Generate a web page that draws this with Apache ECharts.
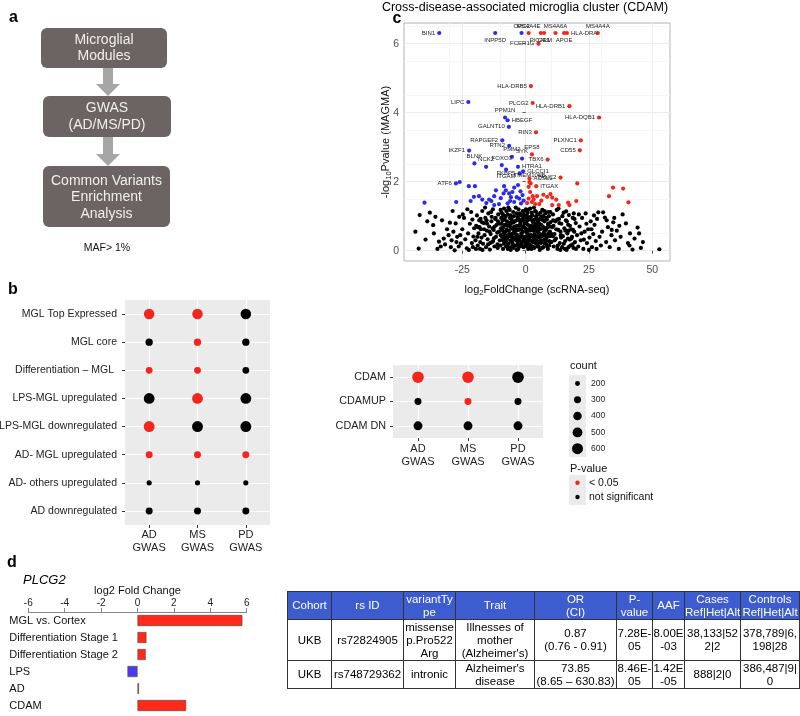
<!DOCTYPE html>
<html><head><meta charset="utf-8">
<script src="https://cdn.jsdelivr.net/npm/echarts@6/dist/echarts.min.js"></script>
<style>
html,body{margin:0;padding:0;background:#fff;}
#chart{position:absolute;left:0;top:0;width:800px;height:716px;}
#tbl{position:absolute;left:287px;top:591px;border-collapse:collapse;font-family:'Liberation Sans',Arial,sans-serif;font-size:11.5px;line-height:13px;table-layout:fixed;width:512px;}
#tbl td,#tbl th{border:1px solid #333;padding:0;text-align:center;vertical-align:middle;white-space:nowrap;overflow:visible;}
#tbl th{background:#3c5ccf;color:#fff;font-weight:normal;font-size:11.5px;height:27px;}
#tbl tr.r1 td{height:40px;}
#tbl tr.r2 td{height:27px;}
</style></head>
<body>
<div id="chart"></div>
<table id="tbl"></table>
<script>
// ---------- Panel b: module enrichment dot plot ----------
const gwasCats = ['AD\nGWAS', 'MS\nGWAS', 'PD\nGWAS'];
const moduleNames = ['MGL Top Expressed', 'MGL core', 'Differentiation – MGL ', 'LPS-MGL upregulated', 'LPS-MGL downregulated', 'AD- MGL upregulated', 'AD- others upregulated', 'AD downregulated'];
const moduleCounts = [[560,560,560],[320,320,320],[290,290,290],[580,580,580],[590,590,590],[300,300,300],[210,210,210],[300,300,300]];
const moduleSignificant = [[1,1,0],[0,1,0],[1,1,0],[0,1,0],[1,0,0],[1,1,1],[0,0,0],[0,0,0]];
const cdamNames = ['CDAM', 'CDAMUP', 'CDAM DN'];
const cdamCounts = [[650,650,650],[300,300,300],[430,430,430]];
const cdamSignificant = [[1,1,0],[0,1,0],[0,0,0]];
const legendCounts = [200, 300, 400, 500, 600];

// ---------- Panel c: volcano ----------
const volcanoLabeledGenes = ['BIN1','INPP5D','OPC2','MS4A4E','PICALM','CR1','MS4A6A','APOE','HLA-DRA','MS4A4A','FCER1G','HLA-DRB5','LIPC','PLCG2','HLA-DRB1','PPM1N','HBEGF','HLA-DQB1','GALNT10','RIN3','RAPGEF2','PLXNC1','RTN2','IKZF1','CD55','EPS8','PMM2','SYK','TBX6','BLNK','FOXO3','NCK2','HTRA1','ITGAM','GLCCI1','FKBP5','ACSL1','TANC2','ATF6','TMEM106B','ITGAX'];
const volcanoLabeledFC = [-34.1,-12.0,-1.6,1.2,6.0,7.3,11.8,15.2,16.3,28.5,5.1,2.1,-22.6,2.8,17.3,-8.1,-7.1,29.0,-6.6,4.1,-9.2,21.8,-6.5,-22.3,21.4,2.5,-5.4,-1.4,8.7,-20.2,-9.4,-15.6,-3.0,-7.7,-1.0,-2.4,1.5,13.8,-27.5,1.5,4.2];
const volcanoLabeledP = [6.31,6.31,6.31,6.31,6.31,6.31,6.31,6.31,6.31,6.31,6.0,4.77,4.31,4.28,4.19,3.86,3.78,3.86,3.59,3.43,3.20,3.20,3.04,2.90,2.91,2.79,2.72,2.67,2.64,2.53,2.48,2.43,2.43,2.35,2.30,2.24,2.09,2.12,1.95,1.99,1.87];
const volcanoOtherFC = [
-26.0,-39.9,-27.4,-22.4,-20.0,-20.4,-21.7,-18.4,-17.1,-14.4,-13.5,-12.4,-11.7,-8.7,-7.8,-6.5,-5.2,-7.1,-6.1,-4.5,-2.5,-1.8,-1.2,-12.4,-8.5,-4.5,-3.0,-9.8,-3.5,-0.8,-10.5,-5.8,-2.0,-15.5,
1.2,1.2,2.5,2.8,4.5,3.8,5.4,8.5,9.8,10.5,10.5,12.1,13.1,16.8,17.3,20.0,20.4,32.9,34.5,38.5,40.6,1.8,3.2,0.6,6.2,2.0,7.0,
-43.5,-42.2,-41.8,-37.8,-35.6,-36.5,-36.2,-34.2,-32.3,-33.5,-39.5,-31.0,-30.4,-38.8,-34.8,-31.8,-33.0,
-29.9,-27.6,-28.0,-25.6,-29.2,-28.5,-27.0,-26.4,-25.0,-24.3,-23.8,-23.2,-22.7,-22.0,-21.5,-21.2,-20.6,-20.3,-24.8,-26.2,-28.8,-22.4,-29.5,-21.0,-27.3,-25.8,-23.0,-20.8,
-19.8,-19.5,-19.2,-18.9,-18.6,-18.3,-18.0,-17.7,-17.4,-17.1,-16.8,-16.5,-16.2,-15.9,-15.6,-15.3,-15.0,-14.7,-14.4,-14.1,-13.8,-13.5,-13.2,-12.9,-12.6,-12.3,-12.0,-11.7,-11.4,-11.1,-10.8,-10.5,-10.2,-19.0,-17.0,-15.2,-13.0,-11.0,-16.0,-14.0,-12.5,-18.2,-10.9,-13.6,-17.8,
-9.9,-9.7,-9.5,-9.3,-9.1,-8.9,-8.7,-8.5,-8.3,-8.1,-7.9,-7.7,-7.5,-7.3,-7.1,-6.9,-6.7,-6.5,-6.3,-6.1,-5.9,-5.7,-5.5,-5.3,-5.1,-4.9,-4.7,-4.5,-4.3,-4.1,-3.9,-3.7,-3.5,-3.3,-3.1,-2.9,-2.7,-2.5,-2.3,-2.1,-1.9,-1.7,-1.5,-1.3,-1.1,-0.9,-0.7,-0.5,-0.3,-9.8,-9.0,-8.2,-7.4,-6.6,-5.8,-5.0,-4.2,-3.4,-2.6,-1.8,-1.0,-0.4,-9.4,-8.6,-7.8,-7.0,-6.2,-5.4,-4.6,-3.8,-3.0,-2.2,-1.4,-0.6,-0.2,-8.8,-6.8,-4.8,-2.8,-0.8,-9.6,-7.6,-5.6,-3.6,-1.6,-0.1,
0.2,0.4,0.6,0.8,1.0,1.2,1.4,1.6,1.8,2.0,2.2,2.4,2.6,2.8,3.0,3.2,3.4,3.6,3.8,4.0,4.2,4.4,4.6,4.8,5.0,5.2,5.4,5.6,5.8,6.0,6.2,6.4,6.6,6.8,7.0,7.2,7.4,7.6,7.8,8.0,8.2,8.4,8.6,8.8,9.0,9.2,9.4,9.6,9.8,0.3,0.9,1.5,2.1,2.7,3.3,3.9,4.5,5.1,5.7,6.3,6.9,7.5,8.1,8.7,9.3,0.5,1.1,1.7,2.3,2.9,3.5,4.1,4.7,5.3,5.9,6.5,7.1,7.7,8.3,8.9,9.5,0.1,1.3,2.5,3.7,4.9,
10.2,10.5,10.8,11.1,11.4,11.7,12.0,12.3,12.6,12.9,13.2,13.5,13.8,14.1,14.4,14.7,15.0,15.3,15.6,15.9,16.2,16.5,16.8,17.1,17.4,17.7,18.0,18.3,18.6,18.9,19.2,19.5,19.8,11.0,12.5,14.0,15.5,17.0,18.5,13.0,16.0,19.0,10.7,13.7,16.7,
20.3,20.8,21.3,21.8,22.3,22.8,23.3,23.7,24.2,24.7,25.2,25.7,26.2,26.7,27.2,27.7,28.2,28.7,29.2,29.7,21.0,22.0,24.0,26.0,28.0,25.0,27.0,23.0,
30.6,31.3,30.2,31.8,32.5,33.2,33.9,34.6,35.3,36.0,36.8,37.5,38.3,39.6,40.4,41.2,42.2,43.0,44.2,44.8,45.5,46.3,52.8,35.0,32.0,37.0,41.0,34.0,
-11.8,-11.2,-10.6,-10.1,-9.85,-9.25,-8.75,-8.35,-7.95,-7.55,-7.15,-6.75,-6.35,-5.95,-5.55,-5.15,-4.75,-4.35,-3.95,-3.55,-3.15,-2.75,-2.35,-1.95,-1.55,-1.15,-0.75,-0.35,0.15,0.55,0.95,1.35,1.75,2.15,2.55,2.95,3.35,3.75,4.15,4.55,4.95,5.35,5.75,6.15,6.55,6.95,7.35,7.75,8.15,8.55,8.95,9.35,9.75,10.3,10.9,11.5,12.1,12.7,13.3,13.9,14.5,15.1,15.7,16.3,16.9,17.5,18.1,18.7,19.3,19.9,-12.2,-12.8,-13.4,-14.2,-14.8,-15.4,-16.4,-17.2,-17.9,-18.8,-19.6,-0.05,-0.45,-0.95,-1.45,-1.85,-2.45,-2.95,-3.45,-3.85,-4.45,-4.95,-5.45,-6.05,-6.45,-7.25,-8.05,-8.95,0.35,0.75,1.25,1.95,2.45,3.05,3.55,4.35,5.05,5.65,6.45,7.25,8.05,8.85,9.65];
const volcanoOtherP = [
1.99,1.39,1.41,1.87,1.87,1.56,1.44,1.58,1.48,1.48,1.44,1.58,1.75,1.66,1.75,1.66,1.70,1.37,1.44,1.41,1.51,1.37,1.61,1.32,1.87,1.83,1.90,1.52,1.55,1.45,1.35,1.55,1.72,1.38,
1.85,1.51,1.41,1.58,1.58,1.35,1.35,1.56,1.64,1.54,1.32,1.48,1.32,1.39,1.32,1.44,1.95,1.58,1.83,1.80,1.40,1.70,1.48,1.38,1.45,1.95,1.62,
0.55,0.06,1.03,1.10,0.98,0.74,0.50,0.26,0.35,0.12,0.32,0.62,0.45,0.85,0.05,0.18,0.88,
0.81,0.79,0.01,0.21,0.30,0.55,0.40,0.12,0.62,0.95,0.33,0.07,0.50,0.78,1.12,0.22,0.41,0.65,1.05,0.98,1.15,0.02,0.10,0.90,0.25,0.45,1.20,0.10,
0.30,0.72,1.02,0.15,0.50,0.88,0.05,0.62,0.38,1.15,0.20,0.80,0.45,0.95,0.10,0.58,0.33,1.08,0.70,0.03,0.48,0.85,0.25,1.20,0.60,0.12,0.92,0.40,0.75,0.18,1.05,0.55,0.30,0.40,0.02,0.78,0.65,0.08,1.25,0.22,0.36,0.68,0.85,1.12,0.92,
0.15,0.65,1.10,0.40,0.88,0.05,0.52,1.22,0.28,0.75,0.98,0.12,0.60,0.35,1.05,0.82,0.20,0.48,1.18,0.70,0.02,0.42,0.92,0.25,0.63,1.12,0.08,0.55,0.85,0.32,1.25,0.15,0.72,0.45,0.98,0.05,0.60,0.30,1.08,0.78,0.18,0.50,0.90,0.38,1.15,0.10,0.68,0.25,0.95,0.45,0.30,1.00,0.85,0.58,0.78,0.18,0.62,0.28,0.88,1.02,0.55,0.12,0.78,0.20,0.40,0.05,0.95,0.48,1.00,0.58,0.20,0.40,0.70,0.85,0.40,0.68,1.25,0.35,1.20,1.05,0.95,1.15,0.10,0.88,0.25,0.65,
0.20,0.85,0.50,1.10,0.05,0.62,0.35,0.95,1.22,0.15,0.72,0.42,1.02,0.25,0.58,0.88,0.08,0.48,1.15,0.68,0.30,0.92,0.12,0.55,1.05,0.38,0.78,0.02,0.62,0.22,0.98,0.45,1.18,0.70,0.10,0.52,0.85,0.32,1.08,0.60,0.18,0.90,0.40,0.05,0.75,1.00,0.28,0.55,0.82,0.40,0.75,0.18,0.98,0.60,1.25,0.22,0.80,0.12,0.92,0.30,0.48,1.15,0.28,0.68,0.15,1.02,0.28,0.58,0.05,0.82,0.35,1.00,0.42,0.65,1.10,0.08,0.88,0.45,0.65,1.12,0.42,1.20,0.90,0.28,0.75,0.25,
0.25,0.68,1.05,0.12,0.48,0.85,0.35,1.18,0.05,0.60,0.92,0.22,0.55,0.78,0.10,0.42,1.10,0.65,0.28,0.88,0.02,0.50,0.75,1.03,0.32,0.15,0.62,0.40,0.95,0.08,0.55,0.25,0.80,0.72,0.90,0.38,0.05,0.58,0.18,1.22,1.14,1.08,0.42,0.02,0.35,
0.45,0.12,0.70,0.30,0.95,0.05,0.55,1.08,0.22,0.62,0.38,0.85,0.10,0.48,0.75,0.28,0.92,1.11,0.40,0.15,1.05,0.50,0.78,0.62,0.05,0.02,1.02,0.32,
1.11,0.96,0.55,0.25,0.68,0.10,0.45,0.82,0.30,0.58,0.05,0.40,1.05,0.79,0.22,0.50,0.03,0.35,0.67,0.50,0.08,0.25,0.04,0.95,0.88,0.72,0.15,0.60,
0.95,0.52,0.15,0.78,1.18,0.60,0.35,0.90,0.55,0.25,0.72,0.42,0.08,1.02,0.65,0.38,0.82,0.15,0.48,1.08,0.62,0.38,0.12,0.85,0.45,0.70,0.32,1.15,0.55,0.30,1.18,0.62,0.08,0.45,0.88,0.12,0.68,0.40,1.12,0.20,0.85,0.50,0.28,0.75,0.42,1.00,0.22,0.65,0.95,0.12,0.50,0.70,1.12,0.48,0.88,0.30,0.62,0.15,0.80,0.45,1.00,0.20,0.58,0.85,0.10,0.72,0.35,0.60,0.92,0.05,0.70,0.28,0.98,0.55,0.18,0.88,0.62,0.82,0.25,0.68,0.05,0.22,0.78,0.98,0.15,0.62,0.72,0.92,0.02,0.38,0.70,0.50,0.85,0.30,0.80,0.15,0.45,1.05,0.95,0.12,0.45,0.70,1.10,0.32,0.90,0.58,0.72,0.40,0.90,0.62,0.35,0.78,0.25];
const volcanoXTicks = [-25, 0, 25, 50];
const volcanoYTicks = [0, 2, 4, 6];

// ---------- Panel d: PLCG2 fold change ----------
const barCats = ['MGL vs. Cortex', 'Differentiation Stage 1', 'Differentiation Stage 2', 'LPS', 'AD', 'CDAM'];
const barFC = [5.76, 0.49, 0.45, -0.55, 0.08, 2.67];

// ---------- Table ----------
const tableHeader = ['Cohort','rs ID','variantTy\npe','Trait','OR\n(CI)','P-\nvalue','AAF','Cases\nRef|Het|Alt','Controls\nRef|Het|Alt'];
const tableRows = [
  ['UKB','rs72824905','missense\np.Pro522\nArg','Illnesses of\nmother\n(Alzheimer\'s)','0.87\n(0.76 - 0.91)','7.28E-\n05','8.00E\n-03','38,133|52\n2|2','378,789|6,\n198|28'],
  ['UKB','rs748729362','intronic','Alzheimer\'s\ndisease','73.85\n(8.65 – 630.83)','8.46E-\n05','1.42E\n-05','888|2|0','386,487|9|\n0']
];
const tableColWidths = [44,72,52,79,82,36,32,56,59];

(function(){
  const t = document.getElementById('tbl');
  const esc = s => s.replace(/&/g,'&amp;').replace(/</g,'&lt;').replace(/\n/g,'<br>');
  let h = '<colgroup>' + tableColWidths.map(w => '<col style="width:' + w + 'px">').join('') + '</colgroup>';
  h += '<tr>' + tableHeader.map(c => '<th>' + esc(c) + '</th>').join('') + '</tr>';
  tableRows.forEach((r, i) => { h += '<tr class="r' + (i+1) + '">' + r.map(c => '<td>' + esc(c) + '</td>').join('') + '</tr>'; });
  t.innerHTML = h;
})();

const FONT = "'Liberation Sans', Arial, Helvetica, sans-serif";
const RED = '#f2261a', BLUE = '#2b2bf0', BLACK = '#000';
function dotSize(c) { return 1.1 * Math.sqrt(Math.max(4, 0.199 * c - 19.6)); }

function dotData(counts, sig) {
  const out = [];
  counts.forEach((row, i) => row.forEach((c, j) => {
    out.push({ value: [j, i, c], itemStyle: { color: sig[i][j] ? RED : BLACK, opacity: 1 } });
  }));
  return out;
}

const labelPlacement = {
  'BIN1':['left',0,0],'INPP5D':['bottom',-5,-1],'OPC2':['top',-5,1],'MS4A4E':['top',7,1],'PICALM':['bottom',-3,-1],
  'CR1':['bottom',3,-1],'MS4A6A':['top',5,1],'APOE':['bottom',-2,-1],'HLA-DRA':['right',0,0],'MS4A4A':['top',2,0],
  'FCER1G':['left',0,0],'HLA-DRB5':['left',0,0],'LIPC':['left',0,0],'PLCG2':['left',0,0],'HLA-DRB1':['left',0,0],
  'PPM1N':['top',0,1],'HBEGF':['right',0,0],'HLA-DQB1':['left',0,0],'GALNT10':['left',0,0],'RIN3':['left',0,0],
  'RAPGEF2':['left',0,0],'PLXNC1':['left',0,0],'RTN2':['left',0,0],'IKZF1':['left',0,0],'CD55':['left',0,0],
  'EPS8':['top',4,1],'PMM2':['top',-3,1],'SYK':['top',1,1],'TBX6':['left',0,-3],'BLNK':['top',-2,1],
  'FOXO3':['top',0,1],'NCK2':['top',-3,1],'HTRA1':['right',0,-3],'ITGAM':['bottom',-10,-2],'GLCCI1':['right',0,1],
  'FKBP5':['left',0,0],'ACSL1':['right',0,-3],'TANC2':['left',0,1],'ATF6':['left',0,0],'TMEM106B':['top',-4,1],'ITGAX':['right',0,0]
};

function sigColor(x, y) { return y > 1.3 ? (x < 0 ? BLUE : RED) : BLACK; }
const bgPts = [], sigPts = [];
volcanoOtherFC.forEach((x, i) => {
  const y = volcanoOtherP[i];
  (y > 1.3 ? sigPts : bgPts).push({ value: [x, y], itemStyle: { color: sigColor(x, y), opacity: 1 } });
});
const labeledPts = volcanoLabeledGenes.map((g, i) => {
  const x = volcanoLabeledFC[i], y = volcanoLabeledP[i];
  const p = labelPlacement[g] || ['left',0,0];
  return { name: g, value: [x, y], itemStyle: { color: sigColor(x, y), opacity: 1 },
    label: { show: true, position: p[0], offset: [p[1], p[2]], distance: 2, formatter: '{b}', fontSize: 6, color: '#222', fontFamily: FONT } };
});

const catAxisCommon = {
  type: 'category',
  axisLine: { show: false },
  axisTick: { show: true, alignWithLabel: true, length: 3, lineStyle: { color: '#333' } },
  splitLine: { show: true, alignWithLabel: true, lineStyle: { color: '#fff', width: 1.2 } },
  axisLabel: { color: '#222', fontFamily: FONT, fontSize: 10.5, interval: 0 }
};

const LEG = 10.5;
const legendGraphics = [];
legendGraphics.push({ type: 'text', x: 570, y: 366, style: { text: 'count', fontSize: 11, fontFamily: FONT, fill: '#111', verticalAlign: 'middle' } });
legendGraphics.push({ type: 'rect', shape: { x: 569, y: 375, width: 17, height: 82 }, style: { fill: '#ebebeb' } });
legendCounts.forEach((c, i) => {
  const cy = 383.5 + i * 16.3;
  legendGraphics.push({ type: 'circle', shape: { cx: 577.5, cy: cy, r: dotSize(c) / 2 }, style: { fill: '#000' } });
  legendGraphics.push({ type: 'text', x: 591, y: cy, style: { text: String(c), fontSize: 8.5, fontFamily: FONT, fill: '#222', verticalAlign: 'middle' } });
});
legendGraphics.push({ type: 'text', x: 570, y: 469, style: { text: 'P-value', fontSize: 11, fontFamily: FONT, fill: '#111', verticalAlign: 'middle' } });
legendGraphics.push({ type: 'rect', shape: { x: 569, y: 475, width: 17, height: 30 }, style: { fill: '#ebebeb' } });
legendGraphics.push({ type: 'circle', shape: { cx: 577.5, cy: 482.7, r: 2.2 }, style: { fill: RED } });
legendGraphics.push({ type: 'circle', shape: { cx: 577.5, cy: 497, r: 2.2 }, style: { fill: '#000' } });
legendGraphics.push({ type: 'text', x: 589, y: 482.7, style: { text: '< 0.05', fontSize: LEG, fontFamily: FONT, fill: '#111', verticalAlign: 'middle' } });
legendGraphics.push({ type: 'text', x: 589, y: 497, style: { text: 'not significant', fontSize: LEG, fontFamily: FONT, fill: '#111', verticalAlign: 'middle' } });

const BOX = '#6c6462', ARROW = '#a6a6a6';
function boxText(x, y, lines) {
  return lines.map((l, k) => ({ type: 'text', x: x, y: y + k * 16.5, style: { text: l, fontSize: 14, fontFamily: FONT, fill: '#efefef', align: 'center', verticalAlign: 'middle' } }));
}
function arrow(y0, y1) {
  return [
    { type: 'rect', shape: { x: 103, y: y0, width: 10, height: y1 - y0 - 11 }, style: { fill: ARROW } },
    { type: 'polygon', shape: { points: [[96, y1 - 12], [120, y1 - 12], [108, y1]] }, style: { fill: ARROW } }
  ];
}
const flowGraphics = [].concat(
  [{ type: 'rect', shape: { x: 41, y: 28, width: 126, height: 40, r: 6 }, style: { fill: BOX } }],
  boxText(104, 40, ['Microglial', 'Modules']),
  arrow(68, 96),
  [{ type: 'rect', shape: { x: 43, y: 96, width: 128, height: 41, r: 6 }, style: { fill: BOX } }],
  boxText(107, 108.5, ['GWAS', '(AD/MS/PD)']),
  arrow(137, 166),
  [{ type: 'rect', shape: { x: 43, y: 166, width: 127, height: 61, r: 6 }, style: { fill: BOX } }],
  boxText(106.5, 181, ['Common Variants', 'Enrichment', 'Analysis']),
  [{ type: 'text', x: 107, y: 248, style: { text: 'MAF> 1%', fontSize: 10.5, fontFamily: FONT, fill: '#111', align: 'center', verticalAlign: 'middle' } }]
);

function panelLabel(t, x, y) {
  return { type: 'text', x: x, y: y, style: { text: t, fontSize: 16, fontWeight: 'bold', fontFamily: FONT, fill: '#000', align: 'center', verticalAlign: 'middle' } };
}

const chart = echarts.init(document.getElementById('chart'));
chart.setOption({
  backgroundColor: '#fff',
  animation: false,
  textStyle: { fontFamily: FONT },
  grid: [
    { left: 125, top: 300, width: 145, height: 225, show: true, backgroundColor: '#ebebeb', borderWidth: 0, outerBoundsMode: 'none', containLabel: false },
    { left: 393, top: 365, width: 150, height: 73, show: true, backgroundColor: '#ebebeb', borderWidth: 0, outerBoundsMode: 'none', containLabel: false },
    { left: 404, top: 23, width: 266, height: 238, show: true, backgroundColor: '#fff', borderColor: '#b3b3b3', borderWidth: 1, outerBoundsMode: 'none', containLabel: false },
    { left: 28.3, top: 612, width: 218.4, height: 102, show: false, outerBoundsMode: 'none', containLabel: false }
  ],
  xAxis: [
    Object.assign({}, catAxisCommon, { gridIndex: 0, data: gwasCats, axisLabel: Object.assign({}, catAxisCommon.axisLabel, { fontSize: 11, lineHeight: 12.5, margin: 4 }) }),
    Object.assign({}, catAxisCommon, { gridIndex: 1, data: gwasCats, axisLabel: Object.assign({}, catAxisCommon.axisLabel, { fontSize: 11, lineHeight: 12.5, margin: 5 }) }),
    { type: 'value', gridIndex: 2, min: -48, max: 57,
      axisLine: { show: false },
      axisTick: { show: true, length: 3, customValues: volcanoXTicks, lineStyle: { color: '#555' } },
      axisLabel: { customValues: volcanoXTicks, color: '#4d4d4d', fontSize: 10.5, margin: 4, fontFamily: FONT },
      splitLine: { show: true, lineStyle: { color: '#ebebeb', width: 1 } },
      minorTick: { show: false, splitNumber: 2 },
      minorSplitLine: { show: true, lineStyle: { color: '#f4f4f4', width: 0.8 } },
      name: '{n|log}{s|2}{n|FoldChange (scRNA-seq)}', nameLocation: 'middle', nameGap: 22, nameMoveOverlap: false,
      nameTextStyle: { rich: { n: { fontSize: 11, fontFamily: FONT, color: '#111' }, s: { fontSize: 7.5, fontFamily: FONT, color: '#111', padding: [6, 0, 0, 0], verticalAlign: 'bottom' } } } },
    { type: 'value', gridIndex: 3, min: -6, max: 6, interval: 2, position: 'top',
      axisLine: { show: true, onZero: false, lineStyle: { color: '#888' } },
      axisTick: { show: true, length: 4, lineStyle: { color: '#888' } },
      axisLabel: { color: '#222', fontSize: 10, margin: 4, fontFamily: FONT },
      splitLine: { show: false },
      name: 'log2 Fold Change', nameLocation: 'middle', nameGap: 16, nameMoveOverlap: false,
      nameTextStyle: { fontSize: 11, color: '#111', fontFamily: FONT } }
  ],
  yAxis: [
    Object.assign({}, catAxisCommon, { gridIndex: 0, inverse: true, data: moduleNames, axisLabel: Object.assign({}, catAxisCommon.axisLabel, { fontSize: 10.5, margin: 8 }) }),
    Object.assign({}, catAxisCommon, { gridIndex: 1, inverse: true, data: cdamNames, axisLabel: Object.assign({}, catAxisCommon.axisLabel, { fontSize: 10.8, margin: 7 }) }),
    { type: 'value', gridIndex: 2, min: -0.3, max: 6.6,
      axisLine: { show: false },
      axisTick: { show: true, length: 3, customValues: volcanoYTicks, lineStyle: { color: '#555' } },
      axisLabel: { customValues: volcanoYTicks, color: '#4d4d4d', fontSize: 10.5, margin: 5, fontFamily: FONT },
      splitLine: { show: true, lineStyle: { color: '#ebebeb', width: 1 } },
      minorTick: { show: false, splitNumber: 2 },
      minorSplitLine: { show: true, lineStyle: { color: '#f4f4f4', width: 0.8 } },
      name: '{n|-log}{s|10}{n|Pvalue (MAGMA)}', nameLocation: 'middle', nameGap: 11, nameRotate: 90, nameMoveOverlap: false,
      nameTextStyle: { rich: { n: { fontSize: 11, fontFamily: FONT, color: '#111' }, s: { fontSize: 7.5, fontFamily: FONT, color: '#111', padding: [6, 0, 0, 0], verticalAlign: 'bottom' } } } },
    { type: 'category', gridIndex: 3, inverse: true, data: barCats,
      axisLine: { show: false, onZero: false }, axisTick: { show: false },
      axisLabel: { align: 'left', margin: 19, fontSize: 11, color: '#111', fontFamily: FONT, interval: 0 } }
  ],
  series: [
    { type: 'scatter', xAxisIndex: 0, yAxisIndex: 0, data: dotData(moduleCounts, moduleSignificant), symbolSize: v => dotSize(v[2]) },
    { type: 'scatter', xAxisIndex: 1, yAxisIndex: 1, data: dotData(cdamCounts, cdamSignificant), symbolSize: v => dotSize(v[2]) },
    { type: 'scatter', xAxisIndex: 2, yAxisIndex: 2, data: bgPts, symbolSize: 4.2 },
    { type: 'scatter', xAxisIndex: 2, yAxisIndex: 2, data: sigPts, symbolSize: 4.2 },
    { type: 'scatter', xAxisIndex: 2, yAxisIndex: 2, data: labeledPts, symbolSize: 4.2, labelLayout: { hideOverlap: false } },
    { type: 'bar', xAxisIndex: 3, yAxisIndex: 3, barWidth: 11,
      data: barFC.map(v => ({ value: v, itemStyle: { color: v < 0 ? '#4a3af2' : '#ff2a1a', borderColor: '#444', borderWidth: 0.6 } })) }
  ],
  graphic: [].concat(flowGraphics, legendGraphics, [
    panelLabel('a', 13.5, 18), panelLabel('b', 13, 290), panelLabel('c', 397, 19), panelLabel('d', 12, 563),
    { type: 'text', x: 525, y: 8, style: { text: 'Cross-disease-associated microglia cluster (CDAM)', fontSize: 12.5, fontFamily: FONT, fill: '#000', align: 'center', verticalAlign: 'middle' } },
    { type: 'text', x: 23, y: 580, style: { text: 'PLCG2', fontSize: 13, fontStyle: 'italic', fontFamily: FONT, fill: '#000', verticalAlign: 'middle' } }
  ])
});
</script>
</body></html>
